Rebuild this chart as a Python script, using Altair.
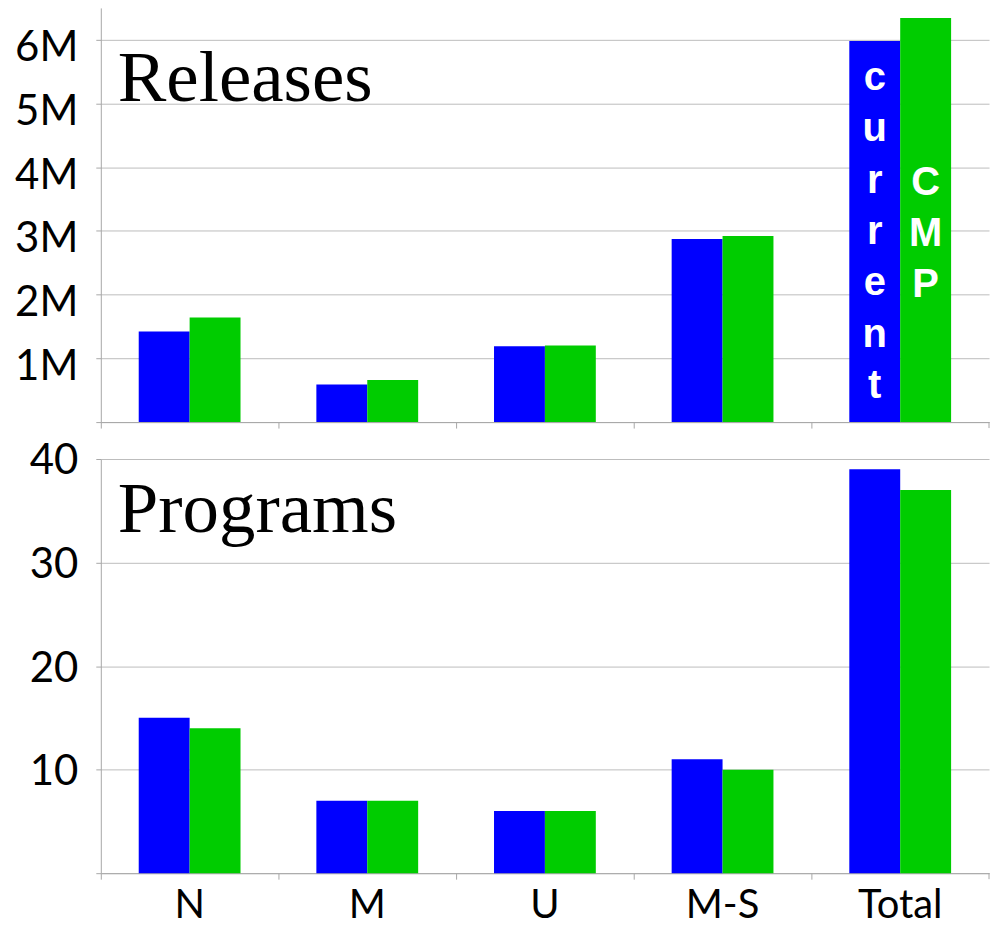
import altair as alt
import pandas as pd

categories = ["N", "M", "U", "M-S", "Total"]
series = ["current", "CMP"]
releases_current = [1.42e6, 0.59e6, 1.19e6, 2.875e6, 5.98e6]
releases_cmp = [1.64e6, 0.66e6, 1.20e6, 2.92e6, 6.34e6]
programs_current = [15, 7, 6, 11, 39]
programs_cmp = [14, 7, 6, 10, 37]
release_ticks = [0, 1e6, 2e6, 3e6, 4e6, 5e6, 6e6]
program_ticks = [0, 10, 20, 30, 40]

def table(cur, cmp_):
    rows = []
    for c, a, b in zip(categories, cur, cmp_):
        rows.append({"cat": c, "series": "current", "value": a})
        rows.append({"cat": c, "series": "CMP", "value": b})
    return pd.DataFrame(rows)

rel_df = table(releases_current, releases_cmp)
prog_df = table(programs_current, programs_cmp)

W, H = 890, 415
GRID = "#BDBDBD"
AX = "#A8A8A8"
LABEL_FONT = "Lato"
LABEL_SIZE = 42

color = alt.Color("series:N", scale=alt.Scale(domain=series, range=["#0000FF", "#00CC00"]), legend=None)
xoff = alt.XOffset("series:N", scale=alt.Scale(domain=series, paddingInner=0, paddingOuter=0.745))

def x_enc(show_labels):
    return alt.X(
        "cat:N",
        sort=categories,
        scale=alt.Scale(paddingInner=0, paddingOuter=0),
        axis=alt.Axis(
            title=None,
            labels=show_labels,
            labelFont=LABEL_FONT,
            labelFontSize=40,
            labelColor="#000000",
            labelPadding=6,
            labelAngle=0,
            tickSize=6,
            tickColor=AX,
            domainColor=AX,
            bandPosition=0,
            grid=False,
        ),
    )

end_tick_df = pd.DataFrame({"k": [0]})

def panel(df, domain_max, ticks, label_expr, label_offset, title, title_y):
    bars = alt.Chart(df).mark_bar(size=51).encode(
        x=x_enc(title == "Programs"),
        xOffset=xoff,
        y=alt.Y(
            "value:Q",
            scale=alt.Scale(domain=[0, domain_max], nice=False, zero=True),
            axis=alt.Axis(
                title=None,
                values=ticks,
                labelExpr=label_expr,
                labelFont=LABEL_FONT,
                labelFontSize=LABEL_SIZE,
                labelColor="#000000",
                labelPadding=18,
                labelOffset=label_offset,
                tickSize=5,
                tickColor=AX,
                domainColor=AX,
                gridColor=GRID,
                gridWidth=1,
            ),
        ),
        color=color,
    )
    title_text = alt.Chart(end_tick_df).mark_text(
        font="Liberation Serif", fontSize=73, align="left", baseline="alphabetic", color="#000000"
    ).encode(x=alt.value(17), y=alt.value(title_y), text=alt.value(title))
    end_tick = alt.Chart(end_tick_df).mark_rule(color=AX, strokeWidth=1).encode(
        x=alt.value(W), y=alt.value(H), y2=alt.value(H + 6)
    )
    return alt.layer(bars, title_text, end_tick).properties(width=W, height=H)

top = panel(
    rel_df, 6.5e6, release_ticks,
    "datum.value == 0 ? '' : format(datum.value / 1000000, 'd') + 'M'",
    8, "Releases", 93,
)

label_df = pd.DataFrame({
    "cat": ["Total", "Total"],
    "series": ["current", "CMP"],
    "txt": ["c\nu\nr\nr\ne\nn\nt", "C\nM\nP"],
    "ypix": [82, 187],
})
vert_labels = alt.Chart(label_df).mark_text(
    font="Liberation Sans", fontWeight="bold", fontSize=40, color="white",
    lineBreak="\n", lineHeight=51.5, align="center", baseline="alphabetic",
).encode(
    x=alt.X("cat:N", sort=categories, scale=alt.Scale(paddingInner=0, paddingOuter=0)),
    xOffset=xoff,
    y=alt.Y("ypix:Q", scale=None),
    text="txt:N",
)
top = alt.layer(top, vert_labels).properties(width=W, height=H)

bottom = panel(
    prog_df, 40, program_ticks,
    "datum.value == 0 ? '' : format(datum.value, 'd')",
    2, "Programs", 73,
)

chart = alt.vconcat(top, bottom, spacing=37, bounds="flush").properties(
    padding={"left": 14, "top": 7, "right": 12, "bottom": 0},
).configure_view(stroke=None).configure_axis(domainWidth=1, tickWidth=1)

chart.save("out.html", embed_options={"renderer": "svg", "actions": False})
